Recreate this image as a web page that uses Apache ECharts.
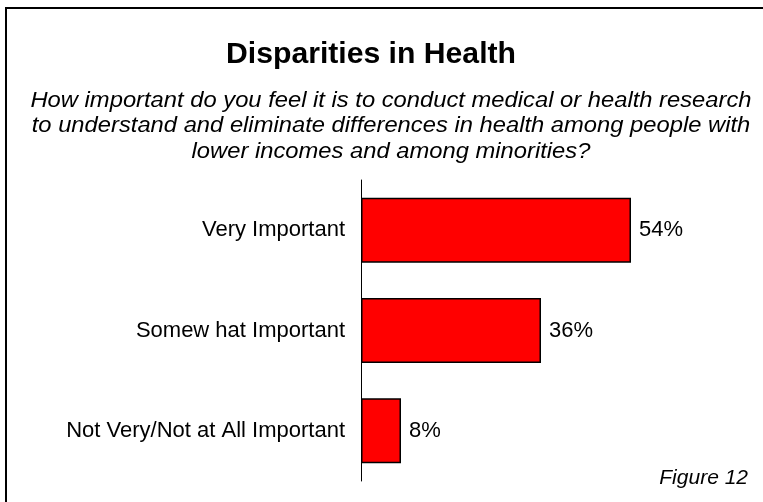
<!DOCTYPE html>
<html>
<head>
<meta charset="utf-8">
<script src="https://cdn.jsdelivr.net/npm/echarts@6/dist/echarts.min.js"></script>
<style>
  html, body { margin: 0; padding: 0; background: #fff; }
  #chart { width: 763px; height: 502px; }
</style>
</head>
<body>
<div id="chart"></div>
<script>
// Survey answers and their shares (percent)
const categories = ['Very Important', 'Somew hat Important', 'Not Very/Not at All Important'];
const shares = [54, 36, 8];

const titleText = 'Disparities in Health';
const questionLines = [
  'How important do you feel it is to conduct medical or health research',
  'to understand and eliminate differences in health among people with',
  'lower incomes and among minorities?'
];
const figureLabel = 'Figure 12';

const FONT = '"Liberation Sans", Arial, sans-serif';
const chart = echarts.init(document.getElementById('chart'), null, { renderer: 'canvas' });

chart.setOption({
  backgroundColor: '#ffffff',
  animation: false,
  textStyle: { fontFamily: FONT },
  graphic: [
    {
      type: 'rect',
      shape: { x: 6, y: 8, width: 800, height: 600 },
      style: { fill: 'none', stroke: '#000', lineWidth: 2 },
      silent: true
    },
    {
      // chart title, slightly widened type
      type: 'text',
      x: 371, y: 55,
      scaleX: 1.04,
      style: {
        text: titleText,
        font: 'bold 29px ' + FONT,
        fill: '#000',
        align: 'center',
        verticalAlign: 'middle'
      }
    },
    {
      // survey question, three centred italic lines
      type: 'text',
      x: 391, y: 88,
      scaleX: 1.08,
      style: {
        text: questionLines.join('\n'),
        font: 'italic 22px ' + FONT,
        lineHeight: 25.5,
        fill: '#000',
        align: 'center',
        verticalAlign: 'top'
      }
    },
    {
      type: 'text',
      x: 748, y: 478,
      style: {
        text: figureLabel,
        font: 'italic 21px ' + FONT,
        fill: '#000',
        align: 'right',
        verticalAlign: 'middle'
      }
    }
  ],
  grid: { left: 361, top: 180, width: 300, height: 301, containLabel: false },
  xAxis: {
    type: 'value',
    min: 0,
    max: 60,
    show: false
  },
  yAxis: {
    type: 'category',
    data: categories,
    inverse: true,
    axisLine: { show: true, lineStyle: { color: '#000', width: 1 } },
    axisTick: { show: false },
    axisLabel: {
      color: '#000',
      fontSize: 22,
      margin: 16,
      fontFamily: FONT
    },
    splitLine: { show: false }
  },
  series: [
    {
      type: 'bar',
      data: shares,
      barWidth: 65,
      itemStyle: { color: '#ff0000', borderColor: '#000', borderWidth: 1.5 },
      label: {
        show: true,
        position: 'right',
        distance: 8,
        formatter: '{c}%',
        color: '#000',
        fontSize: 22,
        fontFamily: FONT
      }
    }
  ]
});
</script>
</body>
</html>
